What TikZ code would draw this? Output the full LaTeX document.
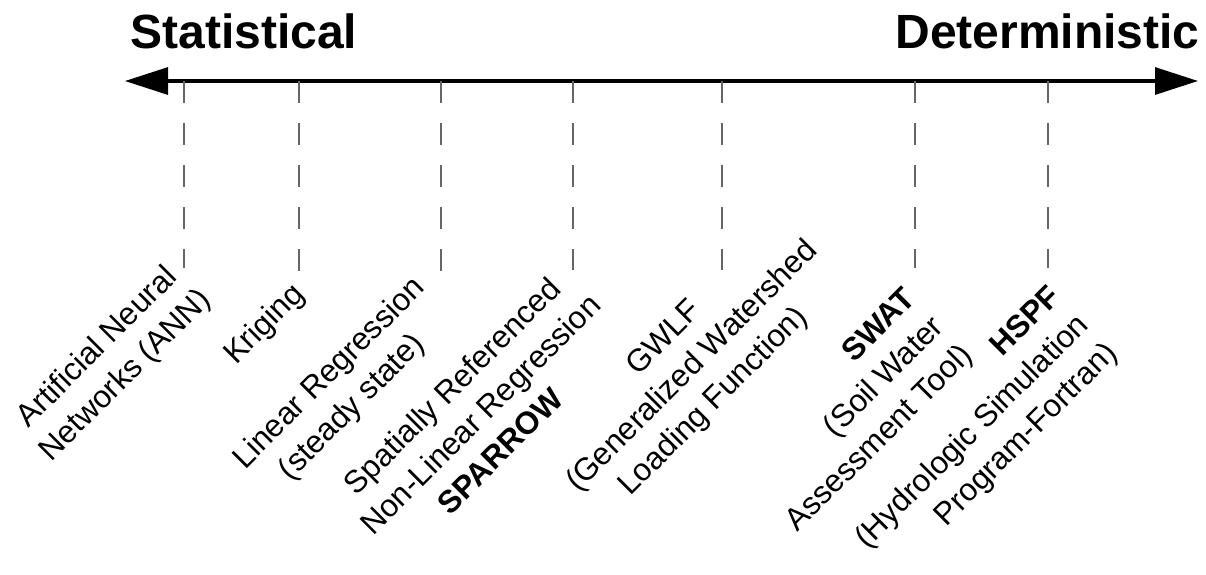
\documentclass[tikz,border=0pt]{standalone}
\usepackage{fontspec}
\setmainfont{Liberation Sans}
\usetikzlibrary{arrows.meta}
\begin{document}
\begin{tikzpicture}[x=0.5pt,y=-0.5pt,
  title/.style={font=\fontsize{24}{28}\selectfont\bfseries, inner sep=0pt},
  axis/.style={line width=1.6pt, {Triangle[length=21.5pt,width=13.5pt]}-{Triangle[length=21.5pt,width=13.5pt]}},
  guide/.style={line width=1pt, draw=black!60, dash pattern=on 11pt off 10pt},
  lbl/.style={rotate=45, align=center, inner sep=0pt, font=\fontsize{15.75}{20}\selectfont},
  lblr/.style={lbl, align=right, anchor=east}]
\useasboundingbox[fill=white] (0,0) rectangle (1206,574);

\node[title, anchor=base west] (stat) at (130,48) {Statistical};
\node[title, anchor=base east] (det) at (1200,48) {Deterministic};

\coordinate (L) at (125,81);
\coordinate (R) at (1198,81);
\draw[axis] (L) -- (R);

\foreach \n/\x/\b in {ann/184/268, kri/299/272, lin/441/271, spa/573/270, gwl/722/270, swa/915/268, hsp/1048/268}{
  \coordinate (\n top) at (\x,81);
  \coordinate (\n bot) at (\x,\b);
  \draw[guide] (\n top) -- (\n bot);
}

\node[lbl] (ann) at (112,362) {Artificial Neural\\Networks (ANN)};
\node[lbl] (kri) at (265,325) {Kriging};
\node[lbl] (lin) at (344,388) {Linear Regression\\(steady state)\hspace{8pt}\mbox{}};
\node[lbl] (spa) at (480,414) {Spatially Referenced\\Non-Linear Regression\\\textbf{SPARROW}\hspace{12pt}\mbox{}};
\node[lbl] (gwl) at (693,367) {GWLF\\(Generalized Watershed\\Loading Function)\hspace{10pt}\mbox{}};
\node[lblr] (swa) at (940,323) {\textbf{SWAT}\\(Soil Water\\Assessment Tool)};
\node[lblr] (hsp) at (1085,321) {\textbf{HSPF}\\(Hydrologic Simulation\\Program-Fortran)};
\end{tikzpicture}
\end{document}
